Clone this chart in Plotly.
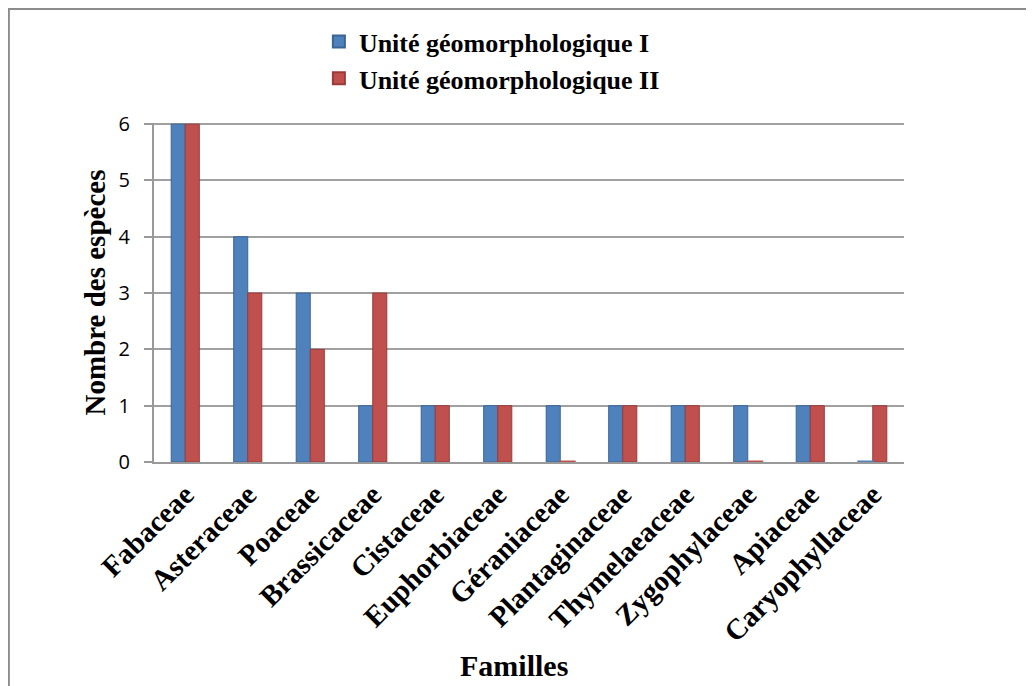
import plotly.graph_objects as go

familles = ['Fabaceae', 'Asteraceae', 'Poaceae', 'Brassicaceae', 'Cistaceae',
            'Euphorbiaceae', 'Géraniaceae', 'Plantaginaceae', 'Thymelaeaceae',
            'Zygophylaceae', 'Apiaceae', 'Caryophyllaceae']
unite_1 = [6, 4, 3, 1, 1, 1, 1, 1, 1, 1, 1, 0]
unite_2 = [6, 3, 2, 3, 1, 1, 0, 1, 1, 0, 1, 1]
y_ticks = [0, 1, 2, 3, 4, 5, 6]

serif = 'Liberation Serif'

fig = go.Figure()

fig.add_trace(go.Bar(
    x=familles, y=unite_1, name='Unité géomorphologique I',
    marker=dict(color='#4F81BD', line=dict(color='#3A6496', width=1)),
    offsetgroup='1'
))
fig.add_trace(go.Bar(
    x=familles, y=unite_2, name='Unité géomorphologique II',
    marker=dict(color='#C0504D', line=dict(color='#9A3B39', width=1)),
    offsetgroup='2'
))

# flat discs where a value is zero
for vals, col, grp in [(unite_1, '#4F81BD', '1'), (unite_2, '#C0504D', '2')]:
    zx = [f for f, v in zip(familles, vals) if v == 0]
    zy = [v for v in vals if v == 0]
    fig.add_trace(go.Scatter(
        x=zx, y=zy, mode='markers', showlegend=False, offsetgroup=grp,
        marker=dict(symbol='line-ew', size=12, line=dict(color=col, width=3)),
        hoverinfo='skip'
    ))

# page body has an 8px margin, so the figure is a bit smaller than the window
fig.update_layout(
    width=1026, height=678,
    paper_bgcolor='white', plot_bgcolor='white',
    margin=dict(l=146, r=130, t=115, b=224, autoexpand=False),
    barmode='group', bargap=0.55, bargroupgap=0,
    scattermode='group', scattergap=0.55,
    legend=dict(
        xref='container', yref='container',
        x=0.303, y=0.985, xanchor='left', yanchor='top',
        font=dict(family=serif, size=26, color='black', weight='bold'),
        itemsizing='constant', tracegroupgap=0, itemwidth=30,
        bgcolor='rgba(0,0,0,0)'
    ),
    font=dict(family=serif, color='black'),
    xaxis=dict(
        tickangle=-45,
        tickfont=dict(family=serif, size=29, color='black', weight='bold'),
        ticklabelstandoff=2,
        showline=True, linecolor='#999999', linewidth=2,
        showgrid=False, ticks=''
    ),
    yaxis=dict(
        range=[0, 6.02],
        tickvals=y_ticks,
        tickfont=dict(family='Open Sans', size=20, color='black'),
        ticklabelstandoff=10,
        showgrid=True, gridcolor='#A0A0A0', gridwidth=2,
        showline=True, linecolor='#999999', linewidth=2,
        ticks='outside', ticklen=8, tickcolor='#999999', tickwidth=2,
        zeroline=False
    ),
    annotations=[
        dict(text='<b>Nombre des espèces</b>', xref='paper', yref='paper',
             x=-0.08, y=0.50, textangle=-90, showarrow=False,
             xanchor='center', yanchor='middle',
             font=dict(family=serif, size=29, color='black')),
        dict(text='<b>Familles</b>', xref='paper', yref='paper',
             x=0.48, y=-0.599, showarrow=False,
             xanchor='center', yanchor='middle',
             font=dict(family=serif, size=30, color='black')),
    ],
    shapes=[dict(
        type='rect', xref='paper', yref='paper',
        x0=-0.1935, y0=-0.8, x1=1.3, y1=1.336,
        line=dict(color='#8C8C8C', width=2), fillcolor='rgba(0,0,0,0)',
        layer='below'
    )]
)

fig.write_html('out.html')
